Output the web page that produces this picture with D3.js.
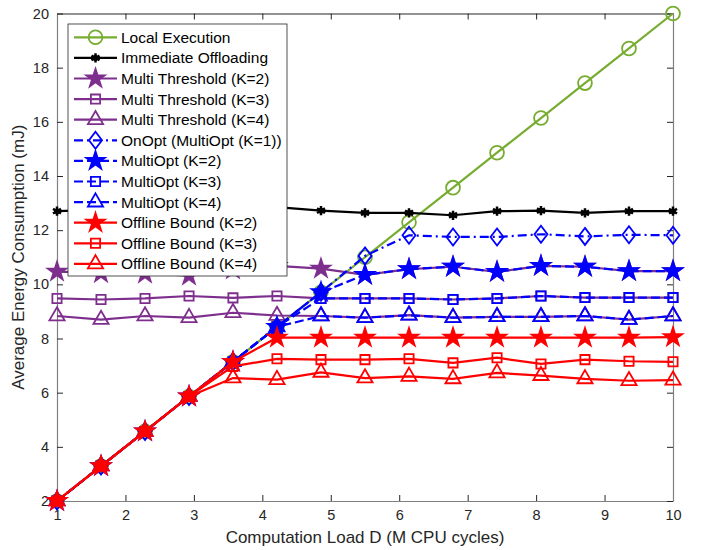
<!DOCTYPE html>
<html>
<head>
<meta charset="utf-8">
<script src="https://cdn.jsdelivr.net/npm/d3@7"></script>
<style>
  body { margin: 0; background: #fff; }
  svg { font-family: "Liberation Sans", Arial, Helvetica, sans-serif; }
  .tick text { fill: #262626; font-size: 14.5px; }
</style>
</head>
<body>
<svg id="chart" width="702" height="550"></svg>
<script>
// computation load D (M CPU cycles)
var loads = [1, 1.643, 2.286, 2.929, 3.571, 4.214, 4.857, 5.5, 6.143, 6.786, 7.429, 8.071, 8.714, 9.357, 10];

var localExec   = [2, 3.29, 4.57, 5.86, 7.14, 8.43, 9.71, 11.0, 12.29, 13.57, 14.86, 16.14, 17.43, 18.71, 20];
var immediate   = [12.7, 12.75, 12.7, 12.8, 12.85, 12.85, 12.72, 12.64, 12.64, 12.55, 12.7, 12.72, 12.64, 12.7, 12.7];
var multiThr2   = [10.47, 10.42, 10.4, 10.32, 10.55, 10.68, 10.58, 10.35, 10.56, 10.65, 10.46, 10.68, 10.65, 10.49, 10.49];
var multiThr3   = [9.48, 9.44, 9.48, 9.57, 9.5, 9.57, 9.48, 9.48, 9.48, 9.44, 9.48, 9.57, 9.51, 9.51, 9.51];
var multiThr4   = [8.83, 8.7, 8.83, 8.77, 8.95, 8.85, 8.83, 8.77, 8.86, 8.77, 8.8, 8.8, 8.83, 8.7, 8.83];
var onOpt       = [2, 3.29, 4.57, 5.86, 7.14, 8.43, 9.71, 11.05, 11.81, 11.75, 11.75, 11.85, 11.77, 11.83, 11.81];
var multiOpt2   = [2, 3.29, 4.57, 5.86, 7.14, 8.43, 9.71, 10.35, 10.56, 10.65, 10.46, 10.68, 10.65, 10.49, 10.49];
var multiOpt3   = [2, 3.29, 4.57, 5.86, 7.14, 8.43, 9.48, 9.48, 9.48, 9.44, 9.48, 9.57, 9.51, 9.51, 9.51];
var multiOpt4   = [2, 3.29, 4.57, 5.86, 7.14, 8.43, 8.83, 8.77, 8.86, 8.77, 8.8, 8.8, 8.83, 8.7, 8.83];
var offline2    = [2, 3.29, 4.57, 5.86, 7.14, 8.03, 8.03, 8.03, 8.03, 8.03, 8.03, 8.03, 8.03, 8.03, 8.05];
var offline3    = [2, 3.29, 4.57, 5.86, 6.97, 7.25, 7.22, 7.22, 7.25, 7.1, 7.29, 7.06, 7.22, 7.16, 7.14];
var offline4    = [2, 3.29, 4.57, 5.86, 6.54, 6.48, 6.75, 6.54, 6.6, 6.51, 6.73, 6.63, 6.51, 6.44, 6.46];

var xTicks = [1, 2, 3, 4, 5, 6, 7, 8, 9, 10];
var yTicks = [2, 4, 6, 8, 10, 12, 14, 16, 18, 20];

var green = '#77AC30', purple = '#7E2F8E', blue = '#0000FF', red = '#FF0000';

var series = [
  {name: 'Local Execution',          values: localExec, color: green,  marker: 'circle',   dash: null},
  {name: 'Immediate Offloading',     values: immediate, color: '#000', marker: 'asterisk', dash: null},
  {name: 'Multi Threshold (K=2)',    values: multiThr2, color: purple, marker: 'star',     dash: null},
  {name: 'Multi Threshold (K=3)',    values: multiThr3, color: purple, marker: 'square',   dash: null},
  {name: 'Multi Threshold (K=4)',    values: multiThr4, color: purple, marker: 'triangle', dash: null},
  {name: 'OnOpt (MultiOpt (K=1))',   values: onOpt,     color: blue,   marker: 'diamond',  dash: '9,4,2,4'},
  {name: 'MultiOpt (K=2)',           values: multiOpt2, color: blue,   marker: 'star',     dash: '9,4'},
  {name: 'MultiOpt (K=3)',           values: multiOpt3, color: blue,   marker: 'square',   dash: '9,4'},
  {name: 'MultiOpt (K=4)',           values: multiOpt4, color: blue,   marker: 'triangle', dash: '9,4'},
  {name: 'Offline Bound (K=2)',      values: offline2,  color: red,    marker: 'star',     dash: null},
  {name: 'Offline Bound (K=3)',      values: offline3,  color: red,    marker: 'square',   dash: null},
  {name: 'Offline Bound (K=4)',      values: offline4,  color: red,    marker: 'triangle', dash: null}
];

var svg = d3.select('#chart');
var plotL = 57, plotR = 673, plotT = 13.5, plotB = 501;

var x = d3.scaleLinear().domain([1, 10]).range([plotL, plotR]);
var y = d3.scaleLinear().domain([2, 20]).range([plotB, plotT]);

// axes (MATLAB-ish: ticks inside, box all round)
function styleAxis(g, lineColor) {
  g.select('.domain').attr('stroke', lineColor).attr('stroke-width', 1.2);
  g.selectAll('.tick line').attr('stroke', '#262626');
}
svg.append('g').attr('transform', 'translate(0,' + plotB + ')')
  .call(d3.axisBottom(x).tickValues(xTicks).tickSizeInner(-6).tickSizeOuter(0).tickPadding(9))
  .call(styleAxis, '#808080');
svg.append('g').attr('transform', 'translate(0,' + plotT + ')')
  .call(d3.axisTop(x).tickValues(xTicks).tickSizeInner(-6).tickSizeOuter(0).tickFormat(''))
  .call(styleAxis, '#262626');
svg.append('g').attr('transform', 'translate(' + plotL + ',0)')
  .call(d3.axisLeft(y).tickValues(yTicks).tickSizeInner(-6).tickSizeOuter(0).tickPadding(8))
  .call(styleAxis, '#808080');
svg.append('g').attr('transform', 'translate(' + plotR + ',0)')
  .call(d3.axisRight(y).tickValues(yTicks).tickSizeInner(-6).tickSizeOuter(0).tickFormat(''))
  .call(styleAxis, '#808080');
svg.selectAll('.tick text').attr('font-family', null).attr('font-size', null);

svg.append('text')
  .attr('x', (plotL + plotR) / 2).attr('y', 543)
  .attr('text-anchor', 'middle').attr('font-size', 17).attr('fill', '#262626')
  .text('Computation Load D (M CPU cycles)');
svg.append('text')
  .attr('transform', 'translate(24,' + ((plotT + plotB) / 2) + ') rotate(-90)')
  .attr('text-anchor', 'middle').attr('font-size', 17).attr('fill', '#262626')
  .text('Average Energy Consumption (mJ)');

// markers
function markerPath(kind) {
  if (kind === 'circle') return d3.symbol(d3.symbolCircle, 150)();
  if (kind === 'star') return d3.symbol(d3.symbolStar, 105)();
  if (kind === 'square') return d3.symbol(d3.symbolSquare, 85)();
  if (kind === 'triangle') return d3.symbol(d3.symbolTriangle, 100)();
  if (kind === 'asterisk') return d3.symbol(d3.symbolAsterisk, 60)();
  if (kind === 'diamond') return 'M0,-8.5L6.5,0L0,8.5L-6.5,0Z';
}
function drawMarker(sel, s) {
  sel.append('path')
    .attr('d', markerPath(s.marker))
    .attr('fill', (s.marker === 'star') ? s.color : 'none')
    .attr('stroke', s.color)
    .attr('stroke-width', s.marker === 'asterisk' ? 2.5 : 1.8);
  if (s.marker === 'asterisk') sel.append('circle').attr('r', 2.8).attr('fill', s.color);
}

var line = d3.line().x(function (d) { return x(d[0]); }).y(function (d) { return y(d[1]); });

series.forEach(function (s) {
  var pts = loads.map(function (l, i) { return [l, s.values[i]]; });
  var g = svg.append('g');
  g.append('path').datum(pts)
    .attr('d', line)
    .attr('fill', 'none')
    .attr('stroke', s.color)
    .attr('stroke-width', 2.2)
    .attr('stroke-dasharray', s.dash);
  g.selectAll('.mk').data(pts).enter().append('g')
    .attr('transform', function (d) { return 'translate(' + x(d[0]) + ',' + y(d[1]) + ')'; })
    .each(function () { drawMarker(d3.select(this), s); });
});

// legend
var lx = 68, ly = 24, lw = 219, lh = 252, rowH = 20.6;
var legend = svg.append('g');
legend.append('rect').attr('x', lx).attr('y', ly).attr('width', lw).attr('height', lh)
  .attr('fill', '#fff').attr('stroke', '#262626').attr('stroke-width', 0.8);
series.forEach(function (s, i) {
  var cy = ly + 13.3 + i * rowH;
  var row = legend.append('g');
  row.append('line').attr('x1', lx + 6).attr('x2', lx + 49).attr('y1', cy).attr('y2', cy)
    .attr('stroke', s.color).attr('stroke-width', 2.2).attr('stroke-dasharray', s.dash);
  var m = row.append('g').attr('transform', 'translate(' + (lx + 27.5) + ',' + cy + ')');
  drawMarker(m, s);
  row.append('text').attr('x', lx + 53).attr('y', cy).attr('dy', '0.36em')
    .attr('font-size', 15.5).attr('fill', '#000').text(s.name);
});
</script>
</body>
</html>
